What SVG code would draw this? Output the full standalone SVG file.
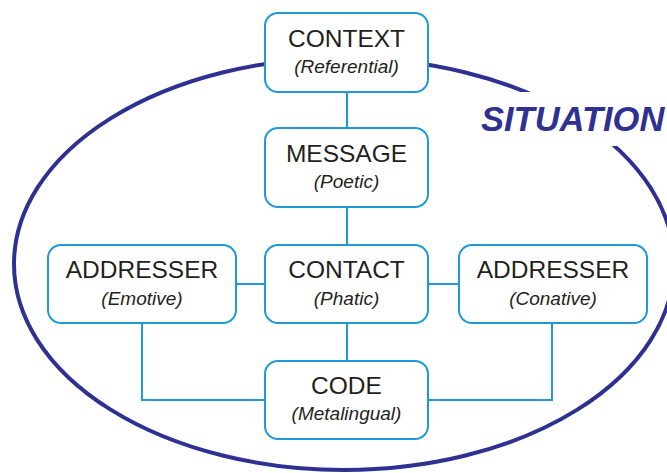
<svg xmlns="http://www.w3.org/2000/svg" width="667" height="473" viewBox="0 0 667 473">
  <style>
    .box { fill: #ffffff; stroke: #1f9ad6; stroke-width: 2; }
    .link { fill: none; stroke: #1f9ad6; stroke-width: 2; }
    .title { font-family: "Liberation Sans", Arial, sans-serif; font-size: 24.5px; fill: #231f20; text-anchor: middle; }
    .sub { font-family: "Liberation Sans", Arial, sans-serif; font-size: 19px; font-style: italic; fill: #231f20; text-anchor: middle; }
    .situation { font-family: "Liberation Sans", Arial, sans-serif; font-size: 34.5px; font-weight: bold; font-style: italic; fill: #2e3192; }
  </style>

  <rect width="667" height="473" fill="#ffffff"/>

  <!-- situation boundary -->
  <g id="situation">
    <ellipse cx="344" cy="264" rx="330" ry="206" fill="none" stroke="#2e3192" stroke-width="4"/>
    <rect x="476" y="92" width="191" height="54" fill="#ffffff"/>
    <text class="situation" x="481" y="131">SITUATION</text>
  </g>

  <!-- connectors -->
  <g id="connectors">
    <line class="link" x1="347" y1="92" x2="347" y2="128"/>
    <line class="link" x1="347" y1="207" x2="347" y2="245"/>
    <line class="link" x1="347" y1="323" x2="347" y2="361"/>
    <line class="link" x1="236" y1="284" x2="266" y2="284"/>
    <line class="link" x1="428" y1="284" x2="459" y2="284"/>
    <polyline class="link" points="142,323 142,400 266,400"/>
    <polyline class="link" points="552,323 552,400 428,400"/>
  </g>

  <g id="context">
    <rect class="box" x="265" y="13" width="163" height="79" rx="13"/>
    <text class="title" x="346.5" y="47">CONTEXT</text>
    <text class="sub" x="346.5" y="73">(Referential)</text>
  </g>

  <g id="message">
    <rect class="box" x="265" y="128" width="163" height="79" rx="13"/>
    <text class="title" x="346.5" y="162">MESSAGE</text>
    <text class="sub" x="346.5" y="188">(Poetic)</text>
  </g>

  <g id="contact">
    <rect class="box" x="265" y="245" width="163" height="78" rx="13"/>
    <text class="title" x="346.5" y="278">CONTACT</text>
    <text class="sub" x="346.5" y="305">(Phatic)</text>
  </g>

  <g id="code">
    <rect class="box" x="265" y="361" width="163" height="78" rx="13"/>
    <text class="title" x="346.5" y="394">CODE</text>
    <text class="sub" x="346.5" y="420">(Metalingual)</text>
  </g>

  <g id="addresser-emotive">
    <rect class="box" x="48" y="245" width="188" height="78" rx="13"/>
    <text class="title" x="142" y="278">ADDRESSER</text>
    <text class="sub" x="142" y="305">(Emotive)</text>
  </g>

  <g id="addresser-conative">
    <rect class="box" x="459" y="245" width="188" height="78" rx="13"/>
    <text class="title" x="553" y="278">ADDRESSER</text>
    <text class="sub" x="553" y="305">(Conative)</text>
  </g>
</svg>
